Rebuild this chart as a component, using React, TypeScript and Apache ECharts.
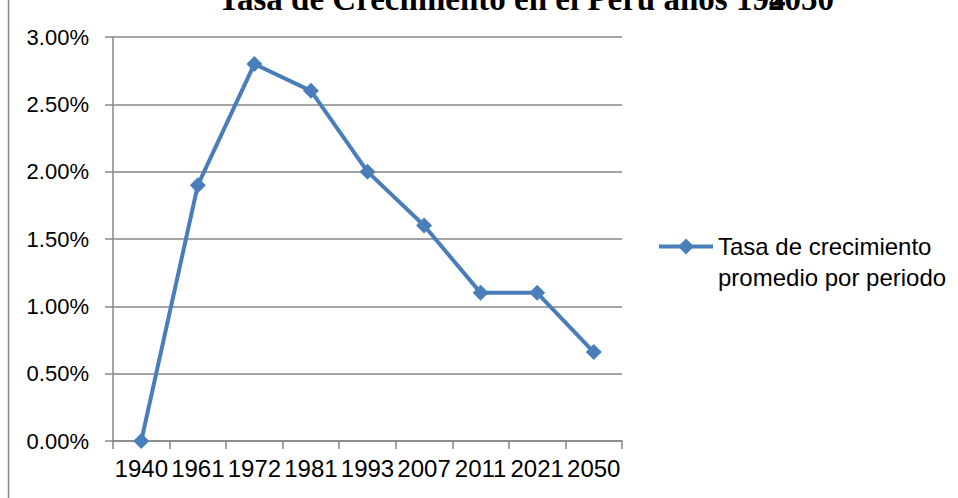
import React, { useEffect, useRef } from "react";
import * as echarts from "echarts";

const years = ["1940", "1961", "1972", "1981", "1993", "2007", "2011", "2021", "2050"];
const growthRate = [0, 1.9, 2.8, 2.6, 2.0, 1.6, 1.1, 1.1, 0.66];
const seriesName = "Tasa de crecimiento\npromedio por periodo";
const titleMain = "Tasa de Crecimiento en el Perú años 194";
const titleEnd = "2050";

export default function App() {
  const ref = useRef<HTMLDivElement>(null);
  useEffect(() => {
    const chart = echarts.init(ref.current!, null, { renderer: "svg" });
    const gray = "#868686";
    const font = "'Liberation Sans', Arial, sans-serif";
    const titleFont = "bold 33px 'Liberation Serif', 'Times New Roman', serif";
    chart.setOption({
      animation: false,
      backgroundColor: "#ffffff",
      grid: { left: 113, right: 336, top: 37, bottom: 57, containLabel: false },
      xAxis: {
        type: "category",
        data: years,
        boundaryGap: true,
        axisLine: { lineStyle: { color: gray, width: 1.5 } },
        axisTick: { show: true, length: 8, lineStyle: { color: gray, width: 1.5 } },
        axisLabel: { color: "#000", fontFamily: font, fontSize: 24, margin: 15, interval: 0 },
      },
      yAxis: {
        type: "value",
        min: 0,
        max: 3,
        interval: 0.5,
        axisLine: { show: true, lineStyle: { color: gray, width: 1.5 } },
        axisTick: { show: true, length: 8, lineStyle: { color: gray, width: 1.5 } },
        splitLine: { lineStyle: { color: gray, width: 1.5 } },
        axisLabel: {
          color: "#000",
          fontFamily: font,
          fontSize: 22,
          margin: 24,
          formatter: (v: number) => v.toFixed(2) + "%",
        },
      },
      legend: {
        show: true,
        orient: "vertical",
        left: 652,
        top: 195,
        itemWidth: 54,
        itemHeight: 20,
        itemGap: 0,
        lineStyle: { width: 4 },
        formatter: (name: string) => " \n" + name,
        textStyle: {
          color: "#000",
          fontFamily: font,
          fontSize: 24,
          lineHeight: 31,
        },
      },
      series: [
        {
          name: seriesName,
          type: "line",
          data: growthRate,
          symbol: "diamond",
          symbolSize: 16,
          lineStyle: { color: "#4A7EBB", width: 4 },
          itemStyle: { color: "#4A7EBB" },
        },
      ],
      graphic: [
        {
          type: "line",
          shape: { x1: 8.5, y1: 0, x2: 8.5, y2: 498 },
          style: { stroke: gray, lineWidth: 1.5 },
        },
        {
          type: "text",
          x: 218,
          y: 15,
          style: {
            text: titleMain,
            font: titleFont,
            fill: "#000",
            verticalAlign: "bottom",
          },
        },
        {
          type: "text",
          x: 834,
          y: 15,
          style: {
            text: titleEnd,
            font: titleFont,
            fill: "#000",
            align: "right",
            verticalAlign: "bottom",
          },
        },
      ],
    });
    return () => chart.dispose();
  }, []);
  return (
    <div
      ref={ref}
      style={{ position: "fixed", left: 0, top: 0, width: 958, height: 498 }}
    />
  );
}
